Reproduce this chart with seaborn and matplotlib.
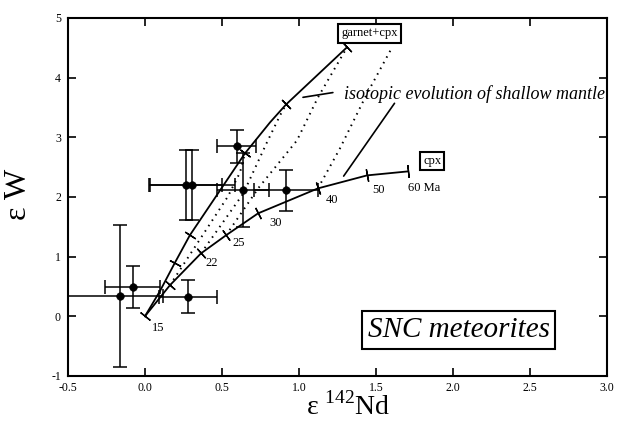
import numpy as np
import seaborn as sns
import matplotlib.pyplot as plt

# --- curves (model evolution) ---
garnet_x = [0.0, 0.097, 0.195, 0.292, 0.649, 0.812, 0.916, 1.312]
garnet_y = [0.0, 0.42, 0.90, 1.36, 2.73, 3.25, 3.55, 4.51]
garnet_ticks = [2, 3, 4, 6, 7]

cpx_x = [0.0, 0.162, 0.364, 0.526, 0.734, 1.123, 1.442, 1.708]
cpx_y = [0.0, 0.52, 1.055, 1.357, 1.725, 2.144, 2.362, 2.429]
cpx_ticks = [0, 1, 2, 3, 4, 5, 6, 7]
cpx_ages = ['15', '', '22', '25', '30', '40', '50', '60 Ma']

# dotted intermediate curves
dot1_x = [0.162, 0.357, 0.539, 0.617, 0.649]
dot1_y = [0.52, 1.29, 2.01, 2.41, 2.73]
dot2_x = [0.364, 0.630, 0.669, 0.792, 0.877, 0.916]
dot2_y = [1.055, 2.027, 2.228, 2.915, 3.367, 3.551]
dot3_x = [0.526, 0.740, 0.987, 1.123, 1.312]
dot3_y = [1.357, 2.161, 2.948, 3.668, 4.51]
dot4_x = [1.123, 1.266, 1.442, 1.604]
dot4_y = [2.144, 2.814, 3.735, 4.506]

# --- SNC meteorite data ---
nd = [-0.16, -0.08, 0.28, 0.265, 0.305, 0.60, 0.636, 0.916]
w = [0.34, 0.49, 0.33, 2.2, 2.2, 2.85, 2.11, 2.11]
nd_lo = [0.34, 0.18, 0.19, 0.235, 0.28, 0.13, 0.17, 0.21]
nd_hi = [0.28, 0.18, 0.19, 0.235, 0.28, 0.12, 0.17, 0.21]
w_err = [1.19, 0.345, 0.28, 0.59, 0.59, 0.28, 0.62, 0.35]

sns.set_style('ticks')
plt.rcParams['font.family'] = ['Liberation Serif', 'DejaVu Serif']
plt.rcParams['mathtext.fontset'] = 'custom'
plt.rcParams['mathtext.rm'] = 'Liberation Serif'
for key in ['text.color', 'axes.labelcolor', 'xtick.color', 'ytick.color',
            'axes.edgecolor']:
    plt.rcParams[key] = 'black'

fig = plt.figure(figsize=(6.17, 4.30), dpi=100)
ax = fig.add_axes([0.110, 0.1256, 0.874, 0.8326])
ax.set_xlim(-0.5, 3.0)
ax.set_ylim(-1, 5)

# solid curves
sns.lineplot(x=garnet_x, y=garnet_y, sort=False, color='k', lw=1.3, ax=ax)
sns.lineplot(x=cpx_x, y=cpx_y, sort=False, color='k', lw=1.3, ax=ax)
for dx, dy in [(dot1_x, dot1_y), (dot2_x, dot2_y), (dot3_x, dot3_y), (dot4_x, dot4_y)]:
    sns.lineplot(x=dx, y=dy, sort=False, color='k', lw=1.4,
                 linestyle=(0, (0.8, 2.5)), ax=ax)


def tick_marks(xs, ys, idx, size=9):
    pts = ax.transData.transform(np.column_stack([xs, ys]))
    for i in idx:
        a = pts[max(i - 1, 0)]
        b = pts[min(i + 1, len(pts) - 1)]
        ang = np.degrees(np.arctan2(b[1] - a[1], b[0] - a[0]))
        ax.plot(xs[i], ys[i], marker=(2, 2, ang), ms=size, color='k', mew=1.0)


tick_marks(garnet_x, garnet_y, garnet_ticks)
tick_marks(cpx_x, cpx_y, cpx_ticks)

# age labels on cpx curve
offsets = [(9.4, -8.6), (0, 0), (7.9, -7.2), (9.4, -5.8), (13, -7.2),
           (10, -8.6), (8, -10.8), (11.5, -12.2)]
for x, y, lab, off in zip(cpx_x, cpx_y, cpx_ages, offsets):
    if lab:
        ax.annotate(lab, (x, y), xytext=off, textcoords='offset points',
                    ha='center', va='center', fontsize=9)

# data with error bars
ax.errorbar(nd, w, xerr=[nd_lo, nd_hi], yerr=w_err, fmt='none', ecolor='k',
            elinewidth=1.1, capsize=5, capthick=1.1, zorder=3)
sns.scatterplot(x=nd, y=w, color='k', s=30, edgecolor='k', zorder=4, ax=ax)

# annotations
box = dict(boxstyle='square,pad=0.25', fc='white', ec='k', lw=1.5)
ax.text(1.46, 4.74, 'garnet+cpx', ha='center', va='center', fontsize=9, bbox=box)
ax.text(1.864, 2.60, 'cpx', ha='center', va='center', fontsize=9, bbox=box)
ax.text(2.036, -0.226, 'SNC meteorites', ha='center', va='center', fontsize=21,
        style='italic', bbox=dict(boxstyle='square,pad=0.2', fc='white', ec='k', lw=1.5))
ax.text(1.29, 3.72, 'isotopic evolution of shallow mantle', ha='left', va='center',
        fontsize=13, style='italic')
ax.plot([1.026, 1.22], [3.67, 3.75], color='k', lw=1.2)
ax.plot([1.62, 1.29], [3.57, 2.35], color='k', lw=1.2)

# axes styling
ax.set_xticks([-0.5, 0.0, 0.5, 1.0, 1.5, 2.0, 2.5, 3.0])
ax.set_xticklabels(['-0.5', '0.0', '0.5', '1.0', '1.5', '2.0', '2.5', '3.0'])
ax.set_yticks([-1, 0, 1, 2, 3, 4, 5])
ax.set_yticklabels(['-1', '0', '1', '2', '3', '4', '5'])
ax.tick_params(direction='in', length=6, width=1.2, top=True, right=True,
               labelsize=8.5)
ax.tick_params(axis='x', pad=4)
ax.tick_params(axis='y', pad=5)
for s in ax.spines.values():
    s.set_linewidth(1.5)

ax.set_xlabel('ε $^{142}$Nd', fontsize=20)
ax.xaxis.set_label_coords(0.52, -0.045)
ax.set_ylabel('ε W', fontsize=23)
ax.yaxis.set_label_coords(-0.065, 0.506)

fig.savefig('out.png', dpi=100)
